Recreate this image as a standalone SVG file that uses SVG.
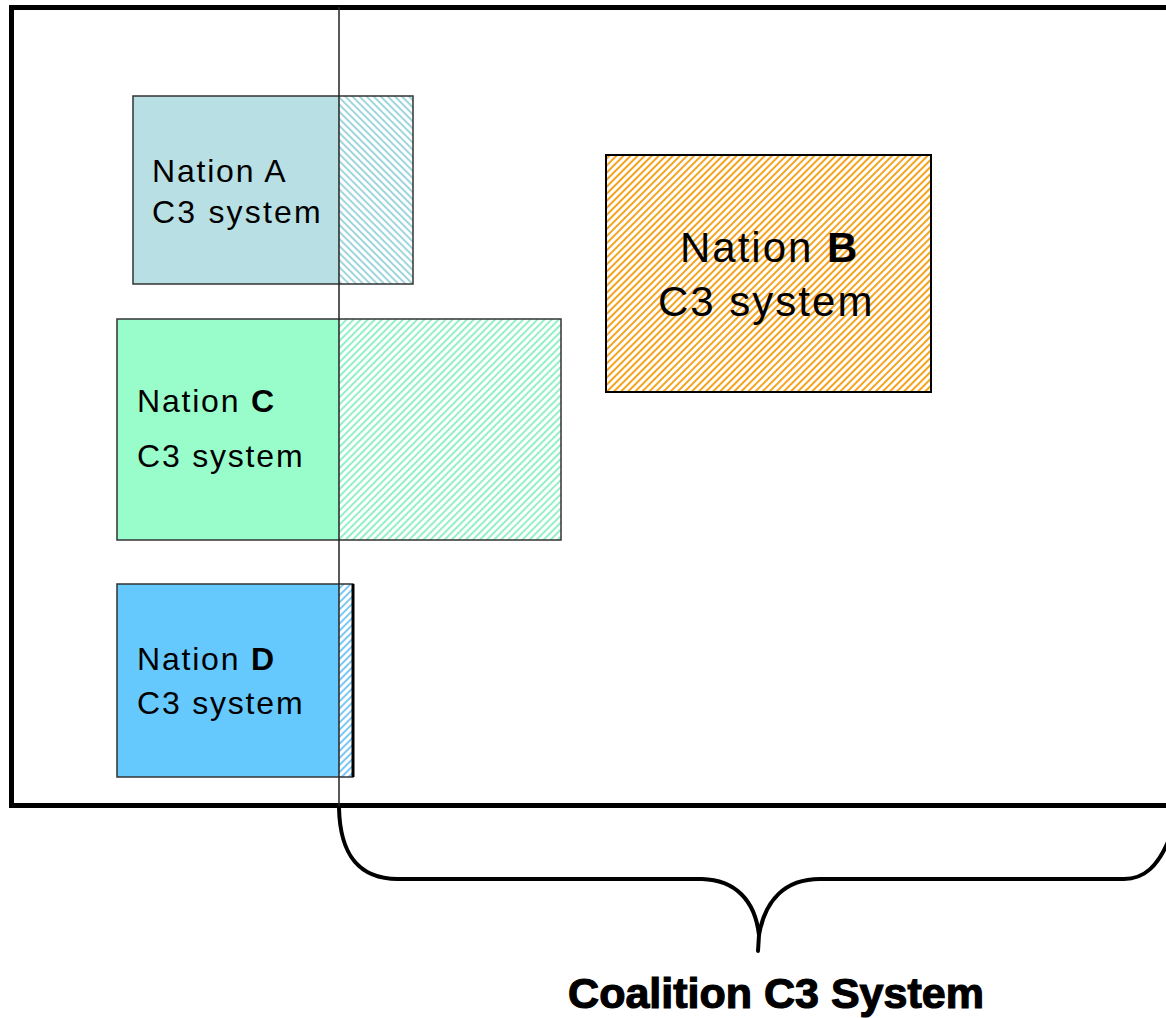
<svg xmlns="http://www.w3.org/2000/svg" width="1166" height="1018" viewBox="0 0 1166 1018">
<defs>
<style>
.lbl{font-family:"Liberation Sans",Arial,sans-serif;fill:#000;}
.sm{font-size:32px;letter-spacing:1.8px;}
.bg{font-size:42px;letter-spacing:2px;}
.box{stroke:#333;stroke-width:1.5;}
.brace{fill:none;stroke:#000;stroke-width:4;stroke-linejoin:round;stroke-linecap:round;}
</style>
<pattern id="hA" patternUnits="userSpaceOnUse" width="5" height="5" patternTransform="rotate(-45)">
<rect width="5" height="5" fill="#fff"/><rect width="2" height="5" fill="#9fd6de"/>
</pattern>
<pattern id="hB" patternUnits="userSpaceOnUse" width="5" height="5" patternTransform="rotate(45)">
<rect width="5" height="5" fill="#fff"/><rect width="2" height="5" fill="#f5a41f"/>
</pattern>
<pattern id="hC" patternUnits="userSpaceOnUse" width="5" height="5" patternTransform="rotate(45)">
<rect width="5" height="5" fill="#fff"/><rect width="2" height="5" fill="#94f0c6"/>
</pattern>
<pattern id="hD" patternUnits="userSpaceOnUse" width="5" height="5" patternTransform="rotate(45)">
<rect width="5" height="5" fill="#fff"/><rect width="2" height="5" fill="#7cc8f2"/>
</pattern>
</defs>
<rect width="1166" height="1018" fill="#fff"/>
<g id="frame">
<path d="M1166,7.5 H11.5 V805.5 H1166" fill="none" stroke="#000" stroke-width="5"/>
</g>
<g id="nationA">
<rect x="133" y="96" width="206" height="188" fill="#b8dfe3"/>
<rect x="339" y="96" width="74" height="188" fill="url(#hA)"/>
<rect x="133" y="96" width="280" height="188" fill="none" class="box"/>
<text class="lbl sm" x="152" y="182">Nation A</text>
<text class="lbl sm" x="152" y="223" style="letter-spacing:2.2px">C3 system</text>
</g>
<g id="nationB">
<rect x="606" y="155" width="325" height="237" fill="url(#hB)" stroke="#000" stroke-width="2"/>
<text class="lbl bg" x="680" y="262">Nation <tspan font-weight="bold">B</tspan></text>
<text class="lbl bg" x="658" y="316">C3 system</text>
</g>
<g id="nationC">
<rect x="117" y="319" width="222" height="221" fill="#99fdcb"/>
<rect x="339" y="319" width="222" height="221" fill="url(#hC)"/>
<rect x="117" y="319" width="444" height="221" fill="none" class="box"/>
<text class="lbl sm" x="137" y="412">Nation <tspan font-weight="bold">C</tspan></text>
<text class="lbl sm" x="137" y="467">C3 system</text>
</g>
<g id="nationD">
<rect x="117" y="584" width="222" height="193" fill="#66c9fe"/>
<rect x="339" y="584" width="13" height="193" fill="url(#hD)"/>
<rect x="117" y="584" width="236" height="193" fill="none" class="box"/>
<line x1="353" y1="584" x2="353" y2="777" stroke="#000" stroke-width="3"/>
<text class="lbl sm" x="137" y="670">Nation <tspan font-weight="bold">D</tspan></text>
<text class="lbl sm" x="137" y="714">C3 system</text>
</g>
<g id="connectors">
<line x1="339" y1="7" x2="339" y2="808" stroke="#222" stroke-width="1.5"/>
<path class="brace" d="M339,808 C340,850 355,879 398,879 H702 C735,880 755,900 759,935 M759,935 L758,951 M759,935 C765,900 785,879 820,879 H1124 C1145,879 1158,865 1168,842"/>
</g>
<g id="label">
<text class="lbl" x="776" y="1008" text-anchor="middle" font-size="43" font-weight="bold" stroke="#000" stroke-width="1.2">Coalition C3 System</text>
</g>
</svg>
